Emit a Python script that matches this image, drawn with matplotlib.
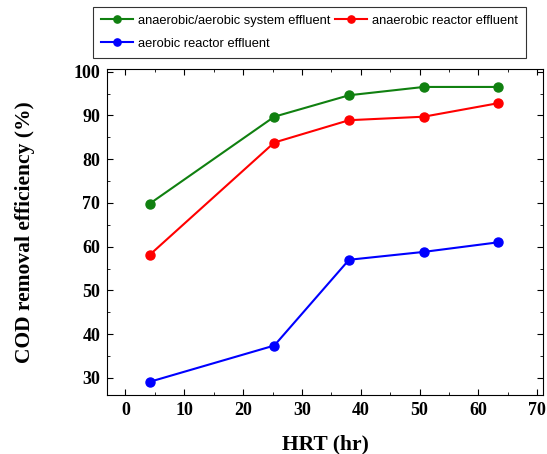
import matplotlib
matplotlib.use("Agg")
import matplotlib.pyplot as plt
from matplotlib.ticker import MultipleLocator

hrt = [4.1, 25.3, 38.0, 50.7, 63.4]
system_eff = [69.8, 89.7, 94.6, 96.5, 96.5]
anaerobic_eff = [58.1, 83.8, 88.9, 89.7, 92.8]
aerobic_eff = [29.1, 37.4, 57.0, 58.8, 61.0]
labels = ["anaerobic/aerobic system effluent", "anaerobic reactor effluent", "aerobic reactor effluent"]
y_ticks = [30, 40, 50, 60, 70, 80, 90, 100]

fig = plt.figure(figsize=(5.47, 4.54), dpi=100)
ax = fig.add_axes([0.196, 0.130, 0.797, 0.718])

series = [(system_eff, "#108010"), (anaerobic_eff, "#ff0000"), (aerobic_eff, "#0000ff")]
handles = []
for (vals, c), lab in zip(series, labels):
    h, = ax.plot(hrt, vals, color=c, lw=1.5, marker="o", ms=6.5, mfc=c, mec=c, label=lab)
    handles.append(h)

ax.set_xlim(-3.1, 71)
ax.set_ylim(26.1, 100.6)
ax.xaxis.set_major_locator(MultipleLocator(10))
ax.xaxis.set_minor_locator(MultipleLocator(5))
ax.set_yticks(y_ticks)
ax.yaxis.set_minor_locator(MultipleLocator(5))
ax.tick_params(which="both", direction="in", top=True, right=True)
ax.tick_params(which="major", length=4, pad=5)
ax.tick_params(which="minor", length=2)
for t in ax.get_xticklabels() + ax.get_yticklabels():
    t.set_fontfamily("Liberation Serif")
    t.set_fontweight("bold")
    t.set_fontsize(13)

ax.set_xlabel("HRT (hr)", fontfamily="Liberation Serif", fontweight="bold", fontsize=15.5, labelpad=11)
ax.set_ylabel("COD removal efficiency (%)", fontfamily="Liberation Serif", fontweight="bold", fontsize=15.5, labelpad=28)

order = [0, 2, 1]
leg = fig.legend([handles[i] for i in order], [labels[i] for i in order], ncol=2, loc="upper left",
                 bbox_to_anchor=(93/547, 1-7/454),
                 frameon=True, fancybox=False, edgecolor="black", borderaxespad=0,
                 prop={"family": "Liberation Sans", "size": 9.3}, handlelength=2.5, columnspacing=0.4,
                 handletextpad=0.35, labelspacing=0.85, borderpad=0.6, markerscale=0.8)
leg.get_frame().set_linewidth(0.8)

fig.savefig("out.png", dpi=100)
